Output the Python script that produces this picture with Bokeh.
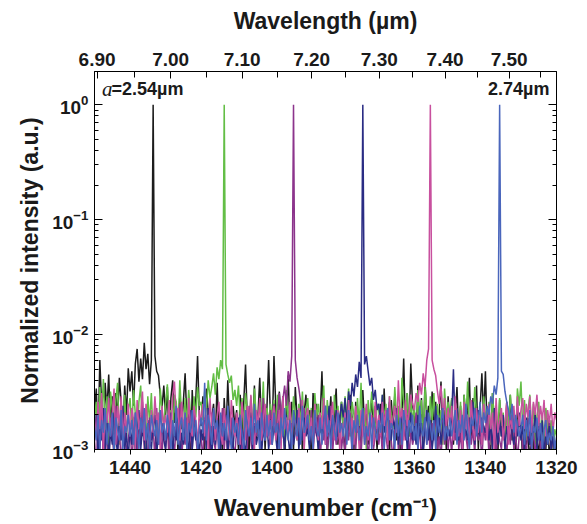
import numpy as np
from bokeh.plotting import figure
from bokeh.models import (Range1d, LinearAxis, LogAxis, FixedTicker,
                          CustomJSTickFormatter, Label)
from bokeh.embed import file_html
from bokeh.resources import INLINE

# ---------------- data ----------------
# spectra sampled every 0.5 cm-1 from 1450 cm-1 down to 1320 cm-1,
# intensities given in units of 1e-3 (normalized, peak = 1000)
WN_START = 1450.0
WN_STEP = 0.5

black_milli = [
    2.1, 3.4, 1.2, 6.0, 2.5, 1.0, 3.8, 2.2, 4.5, 1.6, 2.9, 0.8, 3.1, 1.9, 4.2, 2.6, 1.3, 3.6, 2.0, 5.1,
    3.2, 4.8, 2.4, 5.6, 7.5, 3.9, 6.2, 4.1, 8.5, 5.0, 6.8, 3.7, 6.0, 1000, 6.5, 4.8, 4.4, 3.0, 2.3, 3.6,
    2.0, 3.5, 1.1, 2.8, 4.0, 1.7, 2.3, 0.9, 3.0, 1.5, 2.6, 4.6, 1.8, 2.2, 0.7, 3.3, 1.4, 2.7, 6.5, 2.0,
    1.6, 2.9, 1.0, 3.4, 2.1, 0.8, 1.9, 2.5, 1.2, 3.8, 1.5, 2.0, 0.9, 2.8, 1.3, 4.0, 1.7, 1.1, 2.4, 1.6,
    2.2, 1.0, 3.0, 1.4, 2.6, 5.5, 1.8, 0.9, 2.3, 1.5, 3.6, 1.2, 2.0, 4.2, 1.6, 2.8, 1.0, 2.2, 6.0, 1.9,
    1.3, 6.5, 2.4, 1.1, 3.2, 1.7, 2.9, 0.8, 2.0, 4.4, 1.5, 2.6, 1.0, 3.5, 1.9, 1.2, 2.7, 0.9, 2.1, 3.0,
    1.4, 2.2, 0.8, 3.1, 1.6, 2.5, 1.0, 1.9, 4.8, 1.3, 2.4, 0.9, 1.7, 2.9, 1.2, 2.0, 3.4, 1.1, 1.8, 2.6,
    1.5, 0.9, 2.3, 1.3, 3.0, 1.8, 1.0, 2.6, 1.4, 2.0, 0.8, 3.3, 1.6, 2.2, 1.1, 1.9, 2.8, 1.2, 2.4, 1.0,
    1.7, 2.5, 1.1, 3.4, 1.4, 2.1, 0.9, 2.7, 1.6, 3.0, 1.2, 2.3, 1.0, 2.0, 6.2, 1.5, 3.1, 1.3, 5.6, 2.4,
    2.0, 1.2, 3.6, 1.5, 2.8, 1.0, 4.0, 1.8, 2.4, 1.1, 3.2, 1.4, 2.6, 0.9, 2.1, 3.9, 1.3, 2.2, 1.0, 2.9,
    1.6, 2.7, 1.1, 2.0, 3.5, 1.3, 2.4, 0.9, 3.0, 1.7, 2.2, 4.2, 1.2, 2.8, 1.5, 3.6, 1.0, 2.3, 4.6, 1.9,
    4.8, 1.4, 2.5, 1.0, 3.1, 1.8, 2.2, 0.9, 2.7, 1.3, 2.0, 1.1, 2.6, 1.5, 3.0, 1.2, 1.9, 0.8, 2.4, 1.6,
    1.6, 0.8, 2.0, 1.1, 1.4, 0.7, 1.8, 1.0, 2.2, 1.2, 0.9, 1.7, 0.6, 1.4, 1.0, 1.9, 0.8, 1.3, 1.6, 0.9,
    1.1,
]

green_milli = [
    1.8, 2.6, 1.2, 3.5, 2.0, 4.1, 1.5, 2.9, 1.0, 3.2, 2.3, 1.4, 2.7, 3.8, 1.1, 2.4, 1.7, 3.0, 1.3, 2.2,
    2.8, 1.5, 3.3, 2.0, 1.2, 2.6, 3.6, 1.4, 2.1, 1.0, 2.9, 1.7, 3.1, 1.3, 2.4, 1.9, 1.1, 3.4, 2.2, 1.6,
    2.5, 3.7, 1.8, 2.2, 1.3, 3.0, 2.6, 1.5, 4.0, 2.0, 1.2, 2.8, 1.7, 3.3, 2.1, 1.4, 2.9, 1.9, 3.5, 2.4,
    2.6, 1.8, 3.2, 2.3, 4.0, 2.8, 3.5, 4.6, 3.0, 5.2, 4.1, 6.0, 5.0, 1000, 5.5, 4.5, 3.8, 4.4, 2.7, 3.3,
    2.4, 3.6, 1.9, 2.8, 1.4, 3.1, 2.2, 1.6, 2.9, 1.2, 3.4, 2.0, 1.5, 2.6, 1.8, 3.9, 1.3, 2.3, 1.7, 2.5,
    1.9, 2.7, 1.3, 3.0, 2.1, 1.5, 2.6, 1.1, 3.3, 1.8, 2.4, 1.4, 2.9, 2.0, 1.2, 2.5, 1.7, 3.2, 1.5, 2.2,
    2.8, 1.6, 2.3, 1.0, 3.1, 1.9, 2.5, 1.4, 2.0, 3.6, 1.3, 2.7, 1.7, 2.2, 1.1, 3.0, 1.8, 2.4, 1.2, 2.6,
    1.5, 2.9, 1.9, 3.4, 1.3, 2.6, 2.0, 1.1, 2.8, 1.6, 3.8, 1.4, 2.3, 1.0, 2.7, 1.7, 3.2, 2.1, 1.3, 2.5,
    2.2, 1.4, 3.0, 1.8, 2.5, 1.2, 2.9, 2.0, 1.5, 3.5, 1.9, 2.4, 1.1, 4.2, 2.6, 1.6, 3.1, 1.3, 2.8, 1.7,
    2.4, 1.2, 3.3, 1.7, 2.7, 1.0, 3.6, 2.1, 1.4, 2.9, 1.8, 3.1, 1.3, 2.5, 1.6, 2.2, 1.1, 3.4, 1.9, 2.6,
    1.7, 2.8, 1.3, 2.4, 2.2, 1.5, 2.6, 1.0, 3.0, 1.8, 3.9, 1.2, 2.7, 1.6, 3.5, 2.0, 1.4, 2.5, 1.1, 2.9,
    2.0, 1.4, 2.6, 1.1, 3.1, 1.7, 2.3, 1.3, 2.8, 1.6, 2.1, 1.0, 2.5, 1.5, 3.0, 1.8, 2.2, 1.2, 3.4, 2.4,
    3.9, 1.5, 2.7, 1.2, 2.2, 3.0, 1.4, 2.5, 1.1, 1.9, 2.6, 1.3, 2.0, 1.0, 2.3, 1.6, 1.2, 1.8, 1.0, 1.5,
    1.3,
]

purple_milli = [
    1.2, 0.7, 1.8, 1.0, 2.2, 0.8, 1.5, 1.1, 0.6, 1.9, 1.3, 0.9, 2.4, 1.0, 1.6, 0.7, 1.4, 2.0, 0.9, 1.2,
    1.7, 0.8, 1.3, 2.1, 0.9, 1.5, 1.1, 2.6, 1.0, 1.4, 0.7, 1.9, 1.2, 1.6, 0.8, 2.3, 1.1, 1.4, 0.9, 1.8,
    1.0, 1.6, 0.8, 2.0, 1.3, 0.9, 1.7, 1.2, 2.5, 0.8, 1.4, 1.1, 1.9, 0.7, 1.5, 1.0, 2.2, 1.3, 0.9, 1.6,
    1.3, 0.8, 1.9, 1.1, 1.5, 0.7, 2.1, 1.2, 1.0, 1.7, 0.9, 1.4, 2.3, 1.0, 1.6, 0.8, 1.3, 1.9, 1.1, 0.9,
    1.5, 1.1, 2.0, 0.8, 1.4, 1.8, 1.0, 2.4, 1.2, 0.9, 1.7, 1.3, 2.1, 1.0, 1.6, 2.8, 1.2, 1.9, 1.4, 2.2,
    1.6, 2.5, 1.3, 2.0, 3.1, 1.8, 2.7, 3.6, 2.4, 4.8, 3.9, 6.5, 1000, 6.0, 4.2, 3.4, 2.6, 1.9, 2.3, 1.4,
    1.8, 1.1, 2.2, 0.9, 1.6, 1.3, 2.0, 0.8, 1.5, 1.2, 1.9, 1.0, 1.4, 2.4, 0.9, 1.7, 1.1, 1.3, 2.0, 1.0,
    1.4, 0.9, 1.7, 1.2, 2.1, 0.8, 1.5, 1.0, 1.8, 1.3, 0.9, 2.2, 1.1, 1.6, 0.8, 1.4, 1.9, 1.0, 1.3, 1.7,
    1.1, 1.6, 0.9, 2.0, 1.3, 1.0, 1.8, 1.2, 0.8, 1.5, 2.3, 1.0, 1.4, 0.9, 1.7, 1.2, 2.0, 0.8, 1.5, 1.1,
    1.3, 2.1, 1.0, 1.6, 0.8, 1.4, 1.9, 1.1, 1.5, 0.9, 1.7, 1.2, 2.2, 1.0, 1.3, 0.8, 1.8, 1.1, 1.6, 1.0,
    1.5, 0.9, 1.8, 1.2, 2.0, 1.0, 1.4, 0.8, 1.7, 1.3, 1.0, 1.9, 1.1, 1.5, 0.9, 2.1, 1.2, 1.4, 0.8, 1.6,
    1.2, 1.7, 0.9, 1.4, 1.1, 1.9, 0.8, 1.5, 1.2, 1.0, 1.8, 1.3, 0.9, 1.6, 1.1, 2.0, 1.0, 1.4, 0.8, 1.3,
    1.6, 1.0, 1.4, 0.8, 1.9, 1.2, 1.0, 1.5, 0.9, 1.3, 1.7, 1.0, 1.2, 0.8, 1.5, 1.1, 1.8, 0.9, 1.3, 1.0,
    1.2,
]

navy_milli = [
    1.4, 2.0, 0.9, 1.6, 1.2, 2.3, 1.0, 1.8, 0.8, 1.5, 1.1, 2.1, 1.3, 0.9, 1.7, 1.2, 2.4, 1.0, 1.4, 0.8,
    1.6, 1.1, 1.9, 0.9, 1.3, 2.2, 1.0, 1.5, 1.2, 0.8, 1.8, 1.3, 1.0, 1.6, 2.0, 0.9, 1.4, 1.1, 1.7, 1.2,
    1.0, 1.7, 1.3, 2.1, 0.9, 1.5, 1.2, 1.9, 0.8, 1.4, 1.1, 1.8, 1.3, 0.9, 2.2, 1.0, 1.6, 1.2, 1.4, 0.9,
    1.5, 1.2, 1.8, 1.0, 2.3, 1.3, 0.9, 1.6, 1.1, 1.9, 1.4, 1.0, 1.7, 1.2, 2.0, 0.9, 1.5, 1.3, 1.0, 1.8,
    1.3, 1.9, 1.0, 1.5, 1.2, 0.9, 1.7, 1.4, 2.1, 1.0, 1.6, 1.1, 1.3, 1.9, 0.9, 1.5, 1.2, 1.8, 1.0, 1.4,
    1.1, 1.6, 1.3, 0.9, 1.8, 1.2, 1.5, 1.0, 2.0, 1.3, 0.9, 1.7, 1.1, 1.4, 2.2, 1.0, 1.6, 1.2, 1.9, 1.3,
    1.5, 1.0, 1.8, 1.2, 2.1, 1.4, 1.0, 1.7, 1.3, 2.0, 1.1, 1.6, 2.4, 1.2, 1.9, 1.4, 2.2, 1.3, 1.8, 2.5,
    1.9, 2.8, 1.6, 3.2, 2.4, 3.8, 2.9, 4.5, 3.5, 5.8, 4.2, 1000, 5.5, 6.5, 4.8, 3.6, 4.2, 2.7, 3.3, 2.2,
    2.5, 1.7, 3.0, 1.4, 2.2, 1.8, 2.6, 1.2, 1.9, 1.5, 2.3, 1.1, 1.6, 2.0, 1.3, 1.8, 1.0, 1.5, 2.1, 1.2,
    1.6, 1.1, 2.0, 1.3, 1.7, 0.9, 1.5, 2.2, 1.2, 1.8, 1.0, 1.4, 2.4, 1.3, 1.9, 1.1, 1.6, 2.0, 1.2, 1.5,
    1.3, 1.9, 5.0, 1.4, 2.3, 1.2, 1.8, 1.0, 2.1, 1.5, 1.2, 1.9, 1.4, 2.6, 1.1, 1.7, 2.2, 1.3, 1.9, 1.6,
    1.4, 2.0, 1.2, 1.7, 1.0, 2.3, 1.5, 1.1, 1.8, 1.3, 2.0, 1.0, 1.6, 1.2, 1.9, 1.4, 1.1, 1.7, 1.3, 2.1,
    1.2, 1.6, 1.0, 1.9, 1.3, 1.1, 1.7, 1.4, 2.0, 1.0, 1.5, 1.2, 1.8, 0.9, 1.4, 1.1, 1.6, 1.0, 1.3, 0.9,
    1.1,
]

magenta_milli = [
    1.9, 1.2, 2.6, 1.5, 3.1, 1.0, 2.2, 1.7, 2.8, 1.3, 2.0, 3.4, 1.1, 2.4, 1.6, 2.9, 1.2, 2.1, 1.4, 2.5,
    1.3, 2.3, 1.8, 1.0, 2.7, 1.5, 2.0, 3.2, 1.2, 2.5, 1.6, 1.1, 2.2, 1.4, 2.9, 1.7, 2.1, 1.0, 2.4, 1.5,
    2.0, 1.4, 2.7, 1.1, 3.0, 3.9, 1.8, 2.3, 1.2, 2.6, 1.5, 2.1, 1.0, 2.8, 1.6, 1.3, 2.4, 1.8, 1.1, 2.2,
    1.7, 2.5, 1.3, 2.0, 1.0, 2.8, 1.6, 2.2, 1.2, 1.9, 2.6, 1.4, 1.1, 2.3, 1.5, 2.0, 1.2, 2.7, 1.6, 1.3,
    2.1, 1.5, 1.1, 2.6, 1.8, 1.2, 2.4, 1.4, 3.0, 1.7, 1.0, 2.2, 1.6, 2.8, 1.2, 1.9, 2.5, 1.3, 2.0, 1.1,
    1.8, 2.4, 1.2, 1.6, 2.2, 1.0, 2.9, 1.5, 1.9, 1.3, 2.6, 1.1, 2.0, 1.7, 1.2, 2.3, 1.4, 2.7, 1.0, 1.9,
    2.3, 1.3, 1.9, 1.0, 2.5, 1.6, 1.2, 2.1, 1.5, 2.8, 1.1, 2.0, 1.4, 1.8, 2.6, 1.2, 1.6, 2.2, 1.0, 1.7,
    1.5, 2.1, 1.2, 2.7, 1.4, 1.9, 1.1, 2.4, 1.7, 1.0, 2.2, 1.3, 1.8, 2.5, 1.2, 1.6, 2.0, 1.1, 2.6, 1.5,
    2.0, 1.3, 2.6, 1.6, 2.2, 1.1, 2.9, 1.5, 1.9, 2.4, 1.4, 4.0, 1.8, 2.3, 1.2, 2.7, 1.6, 2.1, 3.0, 2.5,
    2.2, 3.1, 2.6, 3.8, 3.0, 4.6, 3.5, 6.0, 7.5, 1000, 6.0, 5.0, 4.4, 3.2, 2.5, 3.6, 1.9, 2.8, 1.5, 2.3,
    1.6, 2.4, 1.2, 2.9, 1.8, 1.3, 2.2, 1.0, 2.6, 1.5, 2.0, 1.1, 2.7, 1.6, 1.2, 2.3, 1.4, 2.0, 1.1, 2.5,
    1.9, 1.2, 2.5, 1.5, 2.1, 1.0, 2.8, 1.4, 1.8, 2.3, 1.2, 1.7, 2.6, 1.1, 2.0, 1.5, 2.4, 1.3, 2.9, 1.6,
    2.2, 2.8, 1.5, 2.5, 1.9, 2.9, 1.4, 2.6, 2.0, 3.0, 1.6, 2.4, 1.8, 2.7, 1.3, 2.2, 1.7, 2.5, 1.4, 2.1,
    1.8,
]

blue_milli = [
    1.6, 1.2, 2.0, 1.0, 1.8, 1.4, 2.3, 1.1, 1.7, 1.3, 2.1, 0.9, 1.9, 1.5, 1.2, 2.2, 1.0, 1.6, 1.4, 2.0,
    1.3, 1.8, 1.1, 2.1, 1.5, 1.0, 1.9, 1.4, 2.3, 1.2, 1.7, 1.0, 2.0, 1.6, 1.3, 1.8, 1.1, 2.2, 1.4, 1.7,
    1.2, 2.0, 1.5, 1.0, 1.8, 1.3, 2.4, 1.1, 1.6, 1.9, 1.2, 2.1, 1.0, 1.7, 1.4, 2.2, 1.3, 1.8, 1.0, 1.5,
    1.9, 1.4, 3.8, 1.2, 2.0, 1.6, 1.1, 2.3, 1.5, 1.8, 1.0, 2.1, 1.3, 1.7, 1.2, 2.4, 1.5, 1.0, 1.9, 1.4,
    1.7, 1.1, 2.0, 1.4, 1.0, 2.2, 1.6, 1.3, 1.9, 1.1, 2.5, 1.4, 1.8, 1.0, 2.1, 1.5, 1.2, 2.0, 1.3, 1.8,
    1.1, 2.1, 1.4, 1.7, 1.0, 1.9, 1.3, 2.3, 1.5, 1.2, 1.8, 1.0, 2.2, 1.6, 1.3, 1.9, 1.1, 2.4, 1.4, 1.6,
    2.0, 1.2, 1.6, 1.0, 2.2, 1.5, 1.3, 1.9, 1.1, 1.7, 2.4, 1.3, 1.8, 1.0, 2.0, 1.5, 1.2, 2.1, 1.4, 1.7,
    1.3, 1.9, 1.1, 2.2, 1.6, 1.0, 1.8, 1.4, 2.0, 1.2, 1.7, 2.3, 1.1, 1.6, 1.3, 2.1, 1.0, 1.9, 1.5, 1.2,
    1.8, 1.4, 2.1, 1.0, 1.6, 2.3, 1.2, 1.7, 1.5, 1.0, 2.0, 1.3, 1.9, 1.1, 2.2, 1.6, 1.2, 1.8, 1.4, 2.0,
    1.2, 1.7, 1.0, 2.4, 1.5, 1.3, 1.9, 1.1, 2.1, 1.6, 1.2, 1.8, 1.0, 2.0, 1.4, 1.7, 2.3, 1.2, 1.6, 1.3,
    1.9, 1.3, 1.6, 2.2, 1.1, 1.8, 1.4, 2.0, 1.2, 2.5, 1.5, 1.0, 1.9, 1.6, 2.3, 1.3, 1.8, 2.6, 1.4, 2.1,
    1.7, 2.4, 2.0, 2.9, 2.5, 3.6, 3.0, 4.2, 1000, 4.8, 4.5, 3.2, 2.6, 2.2, 1.8, 2.5, 1.4, 2.0, 1.6, 1.3,
    1.5, 2.0, 1.1, 1.8, 1.3, 2.2, 1.0, 1.6, 1.4, 1.9, 1.2, 1.7, 1.0, 1.5, 1.8, 1.1, 1.4, 1.2, 1.6, 1.0,
    1.3,
]

series_values = [black_milli, green_milli, purple_milli, navy_milli, magenta_milli, blue_milli]
series_colors = ["#1c1c1c", "#63be46", "#8c348c", "#2a2c84", "#c8509e", "#4a66bc"]

x_major = [1440, 1420, 1400, 1380, 1360, 1340, 1320]
x_minor = [1450, 1430, 1410, 1390, 1370, 1350, 1330]
wl_major = [6.90, 7.00, 7.10, 7.20, 7.30, 7.40, 7.50]
wl_minor = [6.95, 7.05, 7.15, 7.25, 7.35, 7.45, 7.55]
y_major = [1e-3, 1e-2, 1e-1, 1.0]
y_minor = [m * d for d in (1e-3, 1e-2, 1e-1, 1.0) for m in range(2, 10)]

# ---------------- figure ----------------
FONT = "Liberation Sans"
INK = "#1a1a1a"

p = figure(frame_width=462, frame_height=378,
           x_range=Range1d(1450, 1320), y_range=Range1d(1e-3, 1.95),
           y_axis_type="log", output_backend="svg", toolbar_location=None,
           min_border_left=94, min_border_right=28,
           min_border_top=71, min_border_bottom=73)
p.xgrid.visible = False
p.ygrid.visible = False
p.outline_line_color = "black"
p.outline_line_width = 1
p.background_fill_color = "white"
p.border_fill_color = "white"

for vals, col in zip(series_values, series_colors):
    y = np.array(vals, dtype=float) * 1e-3
    x = WN_START - WN_STEP * np.arange(len(y))
    p.line(x, y, line_color=col, line_width=1.5)

# bottom axis
xb = p.xaxis[0]
xb.ticker = FixedTicker(ticks=x_major, minor_ticks=x_minor)
xb.axis_label = "Wavenumber (cm\u207b\u00b9)"
xb.major_tick_in = 0
xb.major_tick_out = 5
xb.minor_tick_in = 0
xb.minor_tick_out = 3
xb.major_label_standoff = 6
xb.axis_label_standoff = 17

# left axis
yl = p.yaxis[0]
yl.ticker = FixedTicker(ticks=y_major, minor_ticks=y_minor)
yl.axis_label = "Normalized intensity (a.u.)"
yl.major_tick_in = 8
yl.major_tick_out = 0
yl.minor_tick_in = 4
yl.minor_tick_out = 0
yl.major_label_standoff = 6
yl.axis_label_standoff = 6

# top axis (wavelength)
top = LinearAxis(ticker=FixedTicker(ticks=[10000.0 / w for w in wl_major],
                                    minor_ticks=[10000.0 / w for w in wl_minor]),
                 formatter=CustomJSTickFormatter(code="return (10000/tick).toFixed(2);"))
top.axis_label = "Wavelength (\u00b5m)"
top.major_tick_in = 7
top.major_tick_out = 0
top.minor_tick_in = 6
top.minor_tick_out = 0
top.major_label_standoff = 6
top.axis_label_standoff = 16
p.add_layout(top, "above")

# right axis (ticks only)
right = LogAxis(ticker=FixedTicker(ticks=y_major, minor_ticks=y_minor),
                formatter=CustomJSTickFormatter(code="return '';"))
right.major_tick_in = 8
right.major_tick_out = 0
right.minor_tick_in = 4
right.minor_tick_out = 0
right.major_label_standoff = 0
p.add_layout(right, "right")

for ax in (xb, yl, top, right):
    ax.axis_line_color = "black"
    ax.axis_line_width = 1
    ax.major_tick_line_color = "black"
    ax.minor_tick_line_color = "black"
    ax.major_label_text_font = FONT
    ax.major_label_text_font_style = "bold"
    ax.major_label_text_font_size = "19px"
    ax.major_label_text_color = INK
    ax.axis_label_text_font = FONT
    ax.axis_label_text_font_style = "bold"
    ax.axis_label_text_color = INK
xb.axis_label_text_font_size = "24px"
top.axis_label_text_font_size = "23px"
yl.axis_label_text_font_size = "23px"

# peak annotations
def lab(x, y, text, size, style="bold", font=FONT, align="left"):
    p.add_layout(Label(x=x, y=y, text=text, text_font=font,
                       text_font_style=style, text_font_size=size,
                       text_align=align, text_baseline="middle",
                       text_color=INK))

lab(1447.9, 1.37, "a", "21px", style="italic", font="Liberation Serif")
lab(1445.2, 1.37, "=2.54\u00b5m", "18px")
lab(1322.0, 1.37, "2.74\u00b5m", "18px", align="right")

open("out.html", "w").write(file_html(p, INLINE))
